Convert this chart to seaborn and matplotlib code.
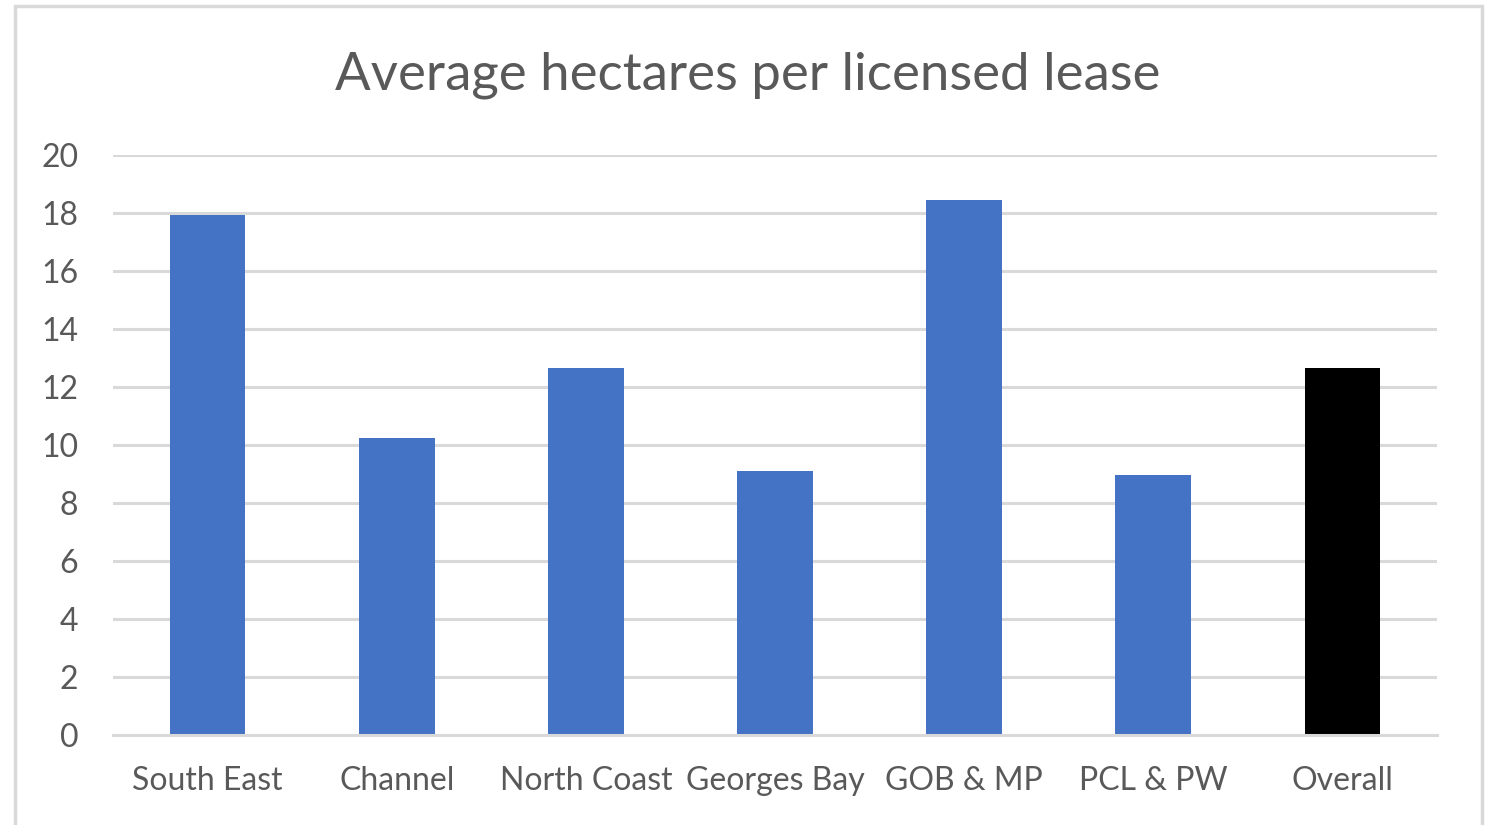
import pandas as pd
import seaborn as sns
from matplotlib import pyplot as plt
from matplotlib.patches import Rectangle

# Данные диаграммы
regions = ['South East', 'Channel', 'North Coast', 'Georges Bay', 'GOB & MP', 'PCL & PW', 'Overall']
hectares = [17.94, 10.24, 12.66, 9.10, 18.46, 8.97, 12.67]
colors = ['#4472c4'] * 6 + ['#000000']
yticks = [0, 2, 4, 6, 8, 10, 12, 14, 16, 18, 20]

df = pd.DataFrame({'region': regions, 'ha': hectares})

sns.set_style('white')
plt.rcParams['font.family'] = ['Lato', 'DejaVu Sans']

fig = plt.figure(figsize=(14.88, 8.25), dpi=100)
ax = fig.add_axes([113 / 1488, 1 - 735 / 825, (1437 - 113) / 1488, (735 - 155) / 825])

sns.barplot(data=df, x='region', y='ha', hue='region', palette=dict(zip(regions, colors)),
            width=0.40, legend=False, ax=ax, saturation=1, linewidth=0)

ax.set_ylim(0, 20)
ax.set_yticks(yticks)
ax.set_xlim(-0.5, len(regions) - 0.5)
ax.yaxis.grid(True, color='#d9d9d9', linewidth=2.2)
ax.set_axisbelow(True)
for s in ['top', 'right', 'left']:
    ax.spines[s].set_visible(False)
ax.spines['bottom'].set_color('#d9d9d9')
ax.spines['bottom'].set_linewidth(2.2)
ax.tick_params(axis='both', length=0, labelsize=23, labelcolor='#595959')
ax.tick_params(axis='x', pad=22)
ax.tick_params(axis='y', pad=25)
ax.set_xlabel('')
ax.set_ylabel('')

fig.text(748 / 1488, 1 - 75 / 825, 'Average hectares per licensed lease', ha='center', va='center',
         fontsize=38, color='#595959')

# рамка области диаграммы
fig.patches.append(Rectangle((15 / 1488, -0.05), (1482 - 15) / 1488, 1.05 - 6 / 825,
                             transform=fig.transFigure, fill=False, edgecolor='#d9d9d9', linewidth=2.5))

fig.savefig('out.png', dpi=100)
